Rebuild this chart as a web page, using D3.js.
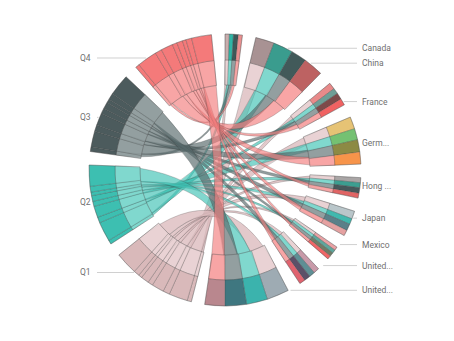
<!DOCTYPE html>
<html>
<head>
<meta charset="utf-8">
<script src="https://cdn.jsdelivr.net/npm/d3@7"></script>
<style>
  html, body { margin: 0; padding: 0; background: #fff; }
  svg { display: block; }
  .label { font-family: "Roboto", "Noto Sans", sans-serif; font-size: 8.5px; fill: #707070; }
</style>
</head>
<body>
<svg id="chart" width="454" height="341"></svg>
<script>
// Sales by quarter and country
const quarters = ["Q1", "Q2", "Q3", "Q4"];
const countries = ["Canada", "China", "France", "Germany", "Hong Kong", "Japan", "Mexico", "United Kingdom", "United States"];

// one row per quarter, columns follow `countries`
const q1Values = [18, 78, 28, 51, 21, 33, 15, 24, 93];
const q2Values = [17, 82, 24, 47, 21, 24, 15, 24, 88];
const q3Values = [20, 65, 27, 51, 23, 28, 16, 26, 90];
const q4Values = [17, 83, 28, 50, 20, 24, 15, 24, 83];
const quarterValues = [q1Values, q2Values, q3Values, q4Values];

// quarter colours: arc band, light band, ribbon
const quarterColors = ["#d9b9ba", "#3dbfb1", "#4c5b5d", "#f47a7a"];
const quarterLight  = ["#ead5d6", "#80d8ce", "#94a0a1", "#f8a4a4"];
const ribbonColors  = ["#dcbcbe", "#3fc2b4", "#56686a", "#f37e7e"];

// per-country band colours, one per quarter segment (Q1..Q4)
const countrySegmentColors = [
  ["#c9adad", "#2fb5a5", "#3d5858", "#e99090"], // Canada
  ["#a89293", "#3a9c8e", "#425a5a", "#bd6262"], // China
  ["#e88a8a", "#6e9e96", "#7d4a4a", "#f06262"], // France
  ["#e6c375", "#74c172", "#8c8a44", "#f7944a"], // Germany
  ["#a9a5a5", "#3c9e90", "#46585a", "#e06464"], // Hong Kong
  ["#b9c6ca", "#41b8ae", "#5b8089", "#e5a1a1"], // Japan
  ["#e9a1a4", "#5fa69c", "#6f7c66", "#f06666"], // Mexico
  ["#c89aa9", "#5f8f95", "#5b5068", "#e0636f"], // United Kingdom
  ["#9eabb3", "#3bb3ad", "#3f7780", "#b9878e"]  // United States
];

const width = 454, height = 341;
const cx = 225, cy = 170;
const rOuter = 136, rMid = 110, rInner = 85, rLabel = 122;
const labelMaxWidth = 31.5;

// square matrix: countries first, then quarters (bipartite, symmetric)
const names = countries.concat(quarters);
const nC = countries.length;
const n = names.length;
const matrix = d3.range(n).map(() => d3.range(n).map(() => 0));
quarterValues.forEach((row, q) => {
  row.forEach((v, c) => {
    matrix[c][nC + q] = v;
    matrix[nC + q][c] = v;
  });
});

const chords = d3.chord().padAngle(0.1).sortSubgroups(null)(matrix);

const svg = d3.select("#chart");
const g = svg.append("g").attr("transform", `translate(${cx},${cy})`);

const quarterOf = (a, b) => (a >= nC ? a - nC : b - nC);

// leader lines for labels (drawn beneath the arcs)
const lines = svg.append("g");
const labels = svg.append("g");

// ribbons, anchored at the middle of the arc bands
const ribbon = d3.ribbon().radius(rMid);
const ribbonData = chords.slice().sort((a, b) =>
  quarterOf(a.source.index, a.target.index) - quarterOf(b.source.index, b.target.index));
g.append("g")
  .selectAll("path")
  .data(ribbonData)
  .join("path")
  .attr("d", ribbon)
  .attr("fill", d => ribbonColors[quarterOf(d.source.index, d.target.index)])
  .attr("fill-opacity", d => quarterOf(d.source.index, d.target.index) === 0 ? 0.8 : 0.66)
  .attr("stroke", "#333")
  .attr("stroke-opacity", 0.45)
  .attr("stroke-width", 0.5);

// segments of each group arc, one per chord end
const ends = [];
chords.forEach(ch => {
  ends.push({ seg: ch.source, other: ch.target.index });
  ends.push({ seg: ch.target, other: ch.source.index });
});

const innerBand = d3.arc().innerRadius(rInner).outerRadius(rMid);
const outerBand = d3.arc().innerRadius(rMid).outerRadius(rOuter);

g.append("g")
  .selectAll("path")
  .data(ends)
  .join("path")
  .attr("d", d => innerBand(d.seg))
  .attr("fill", d => quarterLight[quarterOf(d.seg.index, d.other)])
  .attr("fill-opacity", 0.8)
  .attr("stroke", "#444")
  .attr("stroke-opacity", 0.4)
  .attr("stroke-width", 0.5);

g.append("g")
  .selectAll("path")
  .data(ends)
  .join("path")
  .attr("d", d => outerBand(d.seg))
  .attr("fill", d => {
    const q = quarterOf(d.seg.index, d.other);
    return d.seg.index >= nC ? quarterColors[q] : countrySegmentColors[d.seg.index][q];
  })
  .attr("stroke", "#333")
  .attr("stroke-opacity", 0.5)
  .attr("stroke-width", 0.5);

// group outlines
const groupArc = d3.arc().innerRadius(rInner).outerRadius(rOuter);
g.append("g")
  .selectAll("path")
  .data(chords.groups)
  .join("path")
  .attr("d", groupArc)
  .attr("fill", "none")
  .attr("stroke", "#555")
  .attr("stroke-opacity", 0.45)
  .attr("stroke-width", 0.6);

// labels, shortened with an ellipsis when they do not fit
function fitText(textEl, full) {
  textEl.text(full);
  if (textEl.node().getComputedTextLength() <= labelMaxWidth) return;
  let s = full;
  while (s.length > 1) {
    s = s.slice(0, -1);
    textEl.text(s + "...");
    if (textEl.node().getComputedTextLength() <= labelMaxWidth) return;
  }
}

chords.groups.forEach(grp => {
  const mid = (grp.startAngle + grp.endAngle) / 2;
  const y = cy - rLabel * Math.cos(mid);
  const right = Math.sin(mid) > 0;
  const dy = y - cy;
  const edge = Math.sqrt(Math.max(0, (rOuter + 1) ** 2 - dy * dy));
  if (right) {
    const x0 = cx + edge, x1 = cx + 132;
    if (x1 > x0) lines.append("line").attr("x1", x0).attr("x2", x1).attr("y1", y).attr("y2", y)
      .attr("stroke", "#d0d0d0").attr("stroke-width", 1);
    const t = labels.append("text").attr("class", "label")
      .attr("x", cx + 137).attr("y", y).attr("dy", "0.35em");
    fitText(t, names[grp.index]);
  } else {
    const x0 = cx - 128, x1 = cx - edge;
    if (x1 > x0) lines.append("line").attr("x1", x0).attr("x2", x1).attr("y1", y).attr("y2", y)
      .attr("stroke", "#d0d0d0").attr("stroke-width", 1);
    const t = labels.append("text").attr("class", "label")
      .attr("x", cx - 145).attr("y", y).attr("dy", "0.35em");
    fitText(t, names[grp.index]);
  }
});
</script>
</body>
</html>
